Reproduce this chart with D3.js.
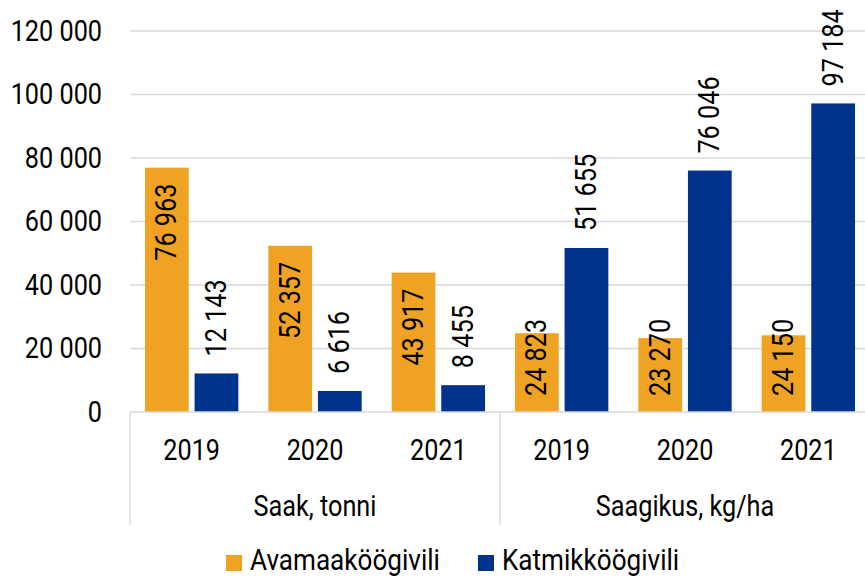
<!DOCTYPE html>
<html><head><meta charset="utf-8">
<script src="https://cdn.jsdelivr.net/npm/d3@7"></script>
<style>body{margin:0;background:#fff}svg{display:block}text{font-family:Roboto,"Liberation Sans",sans-serif;fill:#000}</style>
</head><body><svg id="c" width="865" height="577"></svg>
<script>
const groups = ["Saak, tonni", "Saagikus, kg/ha"];
const years = ["2019", "2020", "2021"];
const seriesNames = ["Avamaaköögivili", "Katmikköögivili"];
const avamaa = [76963, 52357, 43917, 24823, 23270, 24150];
const katmik = [12143, 6616, 8455, 51655, 76046, 97184];
const yTicks = [0, 20000, 40000, 60000, 80000, 100000, 120000];
const colors = ["#F0A323", "#00338D"];

(function () {
const svg = d3.select("#c");
const FS = 29, SX = 0.87;
const pL = 130, pR = 870, pT = 31, pB = 412;

const cats = [];
groups.forEach(g => years.forEach(yr => cats.push(g + "|" + yr)));
const x = d3.scaleBand().domain(cats).range([pL, pR]).paddingInner(0.243).paddingOuter(0.1215);
const x1 = d3.scaleBand().domain([0, 1]).range([0, x.bandwidth()]).paddingInner(0.118);
const y = d3.scaleLinear().domain([0, 120000]).range([pB, pT]);
const fmt = v => d3.format(",")(v).replace(/,/g, " ");

// gridlines
svg.append("g").selectAll("line").data(yTicks.filter(t => t > 0)).join("line")
  .attr("x1", pL).attr("x2", pR).attr("y1", d => y(d)).attr("y2", d => y(d))
  .attr("stroke", "#d9d9d9").attr("stroke-width", 1.3);

// y labels
svg.append("g").selectAll("text").data(yTicks).join("text")
  .attr("transform", d => `translate(102,${y(d)}) scale(${SX},1)`)
  .attr("text-anchor", "end").attr("dominant-baseline", "central")
  .style("font-size", FS + "px").text(d => fmt(d));

// bars
const series = [avamaa, katmik];
const bars = [];
series.forEach((arr, si) => arr.forEach((v, i) => bars.push({si, i, v, cat: cats[i]})));
svg.append("g").selectAll("rect").data(bars).join("rect")
  .attr("x", d => x(d.cat) + x1(d.si)).attr("width", x1.bandwidth())
  .attr("y", d => y(d.v)).attr("height", d => pB - y(d.v))
  .attr("fill", d => colors[d.si]);

// data labels (rotated)
function labelMode(d) {
  if (d.si === 1) return "outEnd";
  return d.i < 3 ? "inEnd" : "inBase";
}
svg.append("g").selectAll("text").data(bars).join("text")
  .attr("transform", d => {
    const cx = x(d.cat) + x1(d.si) + x1.bandwidth() / 2;
    const m = labelMode(d);
    let ty;
    if (m === "outEnd") ty = y(d.v) - 17;
    else if (m === "inEnd") ty = y(d.v) + 16;
    else ty = pB - 16;
    return `translate(${cx},${ty}) rotate(-90) scale(${SX},1)`;
  })
  .attr("text-anchor", d => labelMode(d) === "inEnd" ? "end" : "start")
  .attr("dominant-baseline", "central")
  .style("font-size", FS + "px").text(d => fmt(d.v));

// x axis line
svg.append("line").attr("x1", pL).attr("x2", pR).attr("y1", pB).attr("y2", pB)
  .attr("stroke", "#d9d9d9").attr("stroke-width", 1.3);
// group separators
const sepX = [pL, x(cats[3]) - x.step() * x.paddingInner() / 2, pR];
svg.append("g").selectAll("line").data(sepX).join("line")
  .attr("x1", d => d).attr("x2", d => d).attr("y1", pB).attr("y2", 525)
  .attr("stroke", "#d9d9d9").attr("stroke-width", 1.3);

// year labels
svg.append("g").selectAll("text").data(cats).join("text")
  .attr("transform", d => `translate(${x(d) + x.bandwidth() / 2},450) scale(${SX},1)`)
  .attr("text-anchor", "middle").attr("dominant-baseline", "central")
  .style("font-size", FS + "px").text(d => d.split("|")[1]);

// group labels
svg.append("g").selectAll("text").data(groups).join("text")
  .attr("transform", (d, i) => {
    const a = x(cats[i * 3]), b = x(cats[i * 3 + 2]) + x.bandwidth();
    return `translate(${(a + b) / 2},506) scale(${SX},1)`;
  })
  .attr("text-anchor", "middle").attr("dominant-baseline", "central")
  .style("font-size", FS + "px").text(d => d);

// legend
const legX = [226, 478];
const lg = svg.append("g").selectAll("g").data(seriesNames).join("g")
  .attr("transform", (d, i) => `translate(${legX[i]},0)`);
lg.append("rect").attr("x", 0).attr("y", 555).attr("width", 16).attr("height", 16)
  .attr("fill", (d, i) => colors[i]);
lg.append("text").attr("transform", `translate(24,569.5) scale(0.9,1)`)
  .style("font-size", FS + "px").text(d => d);
})();
</script></body></html>
